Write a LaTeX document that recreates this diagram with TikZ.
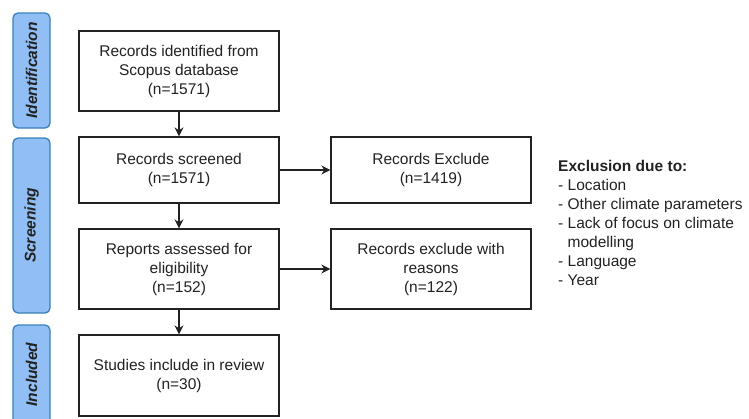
\documentclass[tikz,border=0pt]{standalone}
\usepackage{fontspec}
\setmainfont{Liberation Sans}
\usetikzlibrary{arrows.meta}
\definecolor{stagefill}{HTML}{90BEF5}
\definecolor{stageline}{HTML}{3A7FB8}
\definecolor{txt}{HTML}{222222}
\tikzset{
  box/.style={draw=txt, line width=1.3pt, fill=white, align=center, inner sep=0pt,
    font=\fontsize{15.5}{19}\selectfont, text=txt},
  stage/.style={draw=stageline, fill=stagefill, line width=1.3pt, rounded corners=5pt},
  stagetext/.style={rotate=90, font=\fontsize{15.5}{19}\selectfont\bfseries\itshape, text=txt},
  arr/.style={draw=txt, line width=1.3pt, -{Stealth[length=9pt,width=9pt]}}
}
\begin{document}
\begin{tikzpicture}[x=1pt,y=-1pt]
\useasboundingbox (0,0) rectangle (749,418);
\begin{scope}
\clip (0,0) rectangle (749,418);
\draw[stage] (13,13) rectangle (50,128);
\draw[stage] (13,138) rectangle (50,313);
\draw[stage] (13,325) rectangle (50,424);
\end{scope}
\node[stagetext] (sid) at (31.5,70.5) {Identification};
\node[stagetext] (ssc) at (31.5,225.5) {Screening};
\node[stagetext] (sin) at (31.5,374.5) {Included};

\node[box, minimum width=200pt, minimum height=80pt] (b1) at (179,71) {Records identified from\\Scopus database\\(n=1571)};
\node[box, minimum width=200pt, minimum height=66pt] (b2) at (179,170) {Records screened\\(n=1571)};
\node[box, minimum width=200pt, minimum height=80pt] (b3) at (179,269) {Reports assessed for\\eligibility\\(n=152)};
\node[box, minimum width=200pt, minimum height=81pt] (b4) at (179,375.5) {Studies include in review\\(n=30)};
\node[box, minimum width=200pt, minimum height=66pt] (r1) at (431,170) {Records Exclude\\(n=1419)};
\node[box, minimum width=200pt, minimum height=80pt] (r2) at (431,269) {Records exclude with\\reasons\\(n=122)};

\draw[arr] (b1) -- (b2);
\draw[arr] (b2) -- (b3);
\draw[arr] (b3) -- (b4);
\draw[arr] (b2) -- (r1);
\draw[arr] (b3) -- (r2);

\node[anchor=north west, inner sep=0pt, align=left, text=txt, font=\fontsize{15.5}{19}\selectfont] (ex) at (558,160)
  {\textbf{Exclusion due to:}\\- Location\\- Other climate parameters\\- Lack of focus on climate\\\hphantom{- }modelling\\- Language\\- Year};
\end{tikzpicture}
\end{document}
